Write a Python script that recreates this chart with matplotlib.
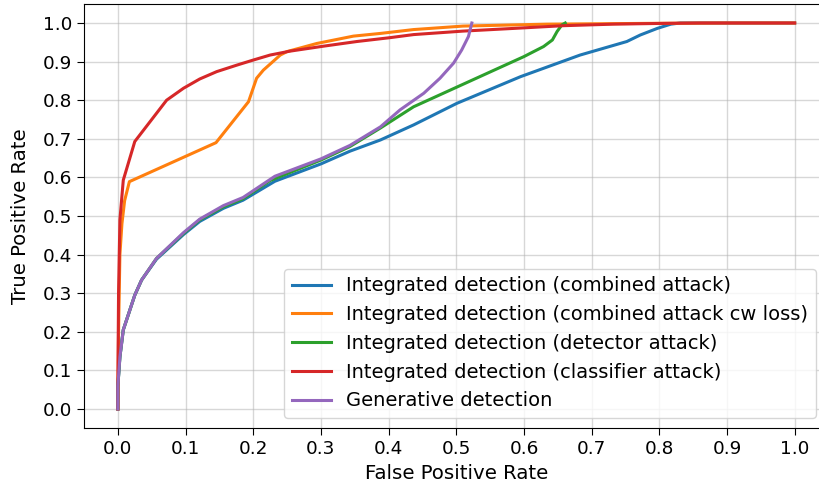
import matplotlib
matplotlib.use("Agg")
import matplotlib.pyplot as plt

# ROC curves (false positive rate, true positive rate)
fpr_combined = [0.0, 0.0, 0.003, 0.008, 0.025, 0.035, 0.057, 0.097, 0.121, 0.156, 0.185,
                0.232, 0.3, 0.343, 0.388, 0.437, 0.501, 0.595, 0.683, 0.752, 0.772,
                0.797, 0.817, 0.831, 1.0]
tpr_combined = [0.0, 0.06, 0.135, 0.205, 0.295, 0.334, 0.388, 0.452, 0.486, 0.52, 0.541,
                0.590, 0.635, 0.668, 0.697, 0.736, 0.792, 0.861, 0.917, 0.952, 0.969,
                0.986, 0.997, 1.0, 1.0]

fpr_cw = [0.0, 0.001, 0.003, 0.006, 0.01, 0.017, 0.145, 0.193, 0.205, 0.215, 0.24, 0.25,
          0.294, 0.348, 0.388, 0.437, 0.51, 0.634, 0.782, 0.9, 1.0]
tpr_cw = [0.0, 0.2, 0.4, 0.48, 0.54, 0.589, 0.69, 0.796, 0.857, 0.878, 0.917, 0.926,
          0.947, 0.966, 0.973, 0.983, 0.992, 0.997, 0.999, 1.0, 1.0]

fpr_detector = [0.0, 0.0, 0.003, 0.008, 0.025, 0.035, 0.057, 0.097, 0.121, 0.156, 0.185,
                0.225, 0.3, 0.343, 0.388, 0.437, 0.526, 0.6, 0.629, 0.642, 0.649, 0.656, 0.661]
tpr_detector = [0.0, 0.06, 0.135, 0.205, 0.295, 0.334, 0.39, 0.455, 0.49, 0.524, 0.545,
                0.592, 0.645, 0.68, 0.728, 0.783, 0.854, 0.913, 0.939, 0.956, 0.978, 0.995, 1.0]

fpr_classifier = [0.0, 0.0, 0.001, 0.003, 0.008, 0.025, 0.072, 0.097, 0.121, 0.146, 0.176,
                  0.2, 0.225, 0.254, 0.304, 0.353, 0.402, 0.437, 0.51, 0.585, 0.658, 0.732,
                  0.806, 0.86, 1.0]
tpr_classifier = [0.0, 0.06, 0.3, 0.49, 0.593, 0.693, 0.80, 0.831, 0.855, 0.874, 0.891,
                  0.904, 0.917, 0.927, 0.940, 0.952, 0.962, 0.970, 0.979, 0.986, 0.993, 0.997,
                  0.999, 1.0, 1.0]

fpr_generative = [0.0, 0.0, 0.003, 0.008, 0.025, 0.035, 0.057, 0.097, 0.121, 0.156, 0.185,
                  0.232, 0.3, 0.343, 0.388, 0.417, 0.452, 0.476, 0.496, 0.508, 0.518, 0.523]
tpr_generative = [0.0, 0.06, 0.135, 0.205, 0.295, 0.334, 0.39, 0.457, 0.492, 0.527, 0.548,
                  0.603, 0.648, 0.683, 0.731, 0.775, 0.818, 0.857, 0.896, 0.930, 0.965, 1.0]

labels = [
    "Integrated detection (combined attack)",
    "Integrated detection (combined attack cw loss)",
    "Integrated detection (detector attack)",
    "Integrated detection (classifier attack)",
    "Generative detection",
]
ticks = [0.0, 0.1, 0.2, 0.3, 0.4, 0.5, 0.6, 0.7, 0.8, 0.9, 1.0]
tick_labels = ["0.0", "0.1", "0.2", "0.3", "0.4", "0.5", "0.6", "0.7", "0.8", "0.9", "1.0"]

fig = plt.figure(figsize=(8.19, 4.93), dpi=100)
ax = fig.add_axes([0.1026, 0.1312, 0.909, 0.8613])

curves = [
    (fpr_combined, tpr_combined, "#1f77b4"),
    (fpr_cw, tpr_cw, "#ff7f0e"),
    (fpr_detector, tpr_detector, "#2ca02c"),
    (fpr_classifier, tpr_classifier, "#d62728"),
    (fpr_generative, tpr_generative, "#9467bd"),
]
for (x, y, c), lab in zip(curves, labels):
    ax.plot(x, y, color=c, lw=2.2, label=lab)

ax.set_xlim(-0.05, 1.05)
ax.set_ylim(-0.05, 1.05)
ax.set_xticks(ticks)
ax.set_xticklabels(tick_labels)
ax.set_yticks(ticks)
ax.set_yticklabels(tick_labels)
ax.tick_params(labelsize=13.3, length=5)
ax.spines["right"].set_visible(False)
ax.grid(True, color="#b0b0b0", alpha=0.5, lw=1.0)
ax.set_xlabel("False Positive Rate", fontsize=14.2)
ax.set_ylabel("True Positive Rate", fontsize=14.2, labelpad=9)
ax.legend(loc="lower right", bbox_to_anchor=(0.983, 0.024), borderaxespad=0,
          fontsize=14)

fig.savefig("out.png", dpi=100)
